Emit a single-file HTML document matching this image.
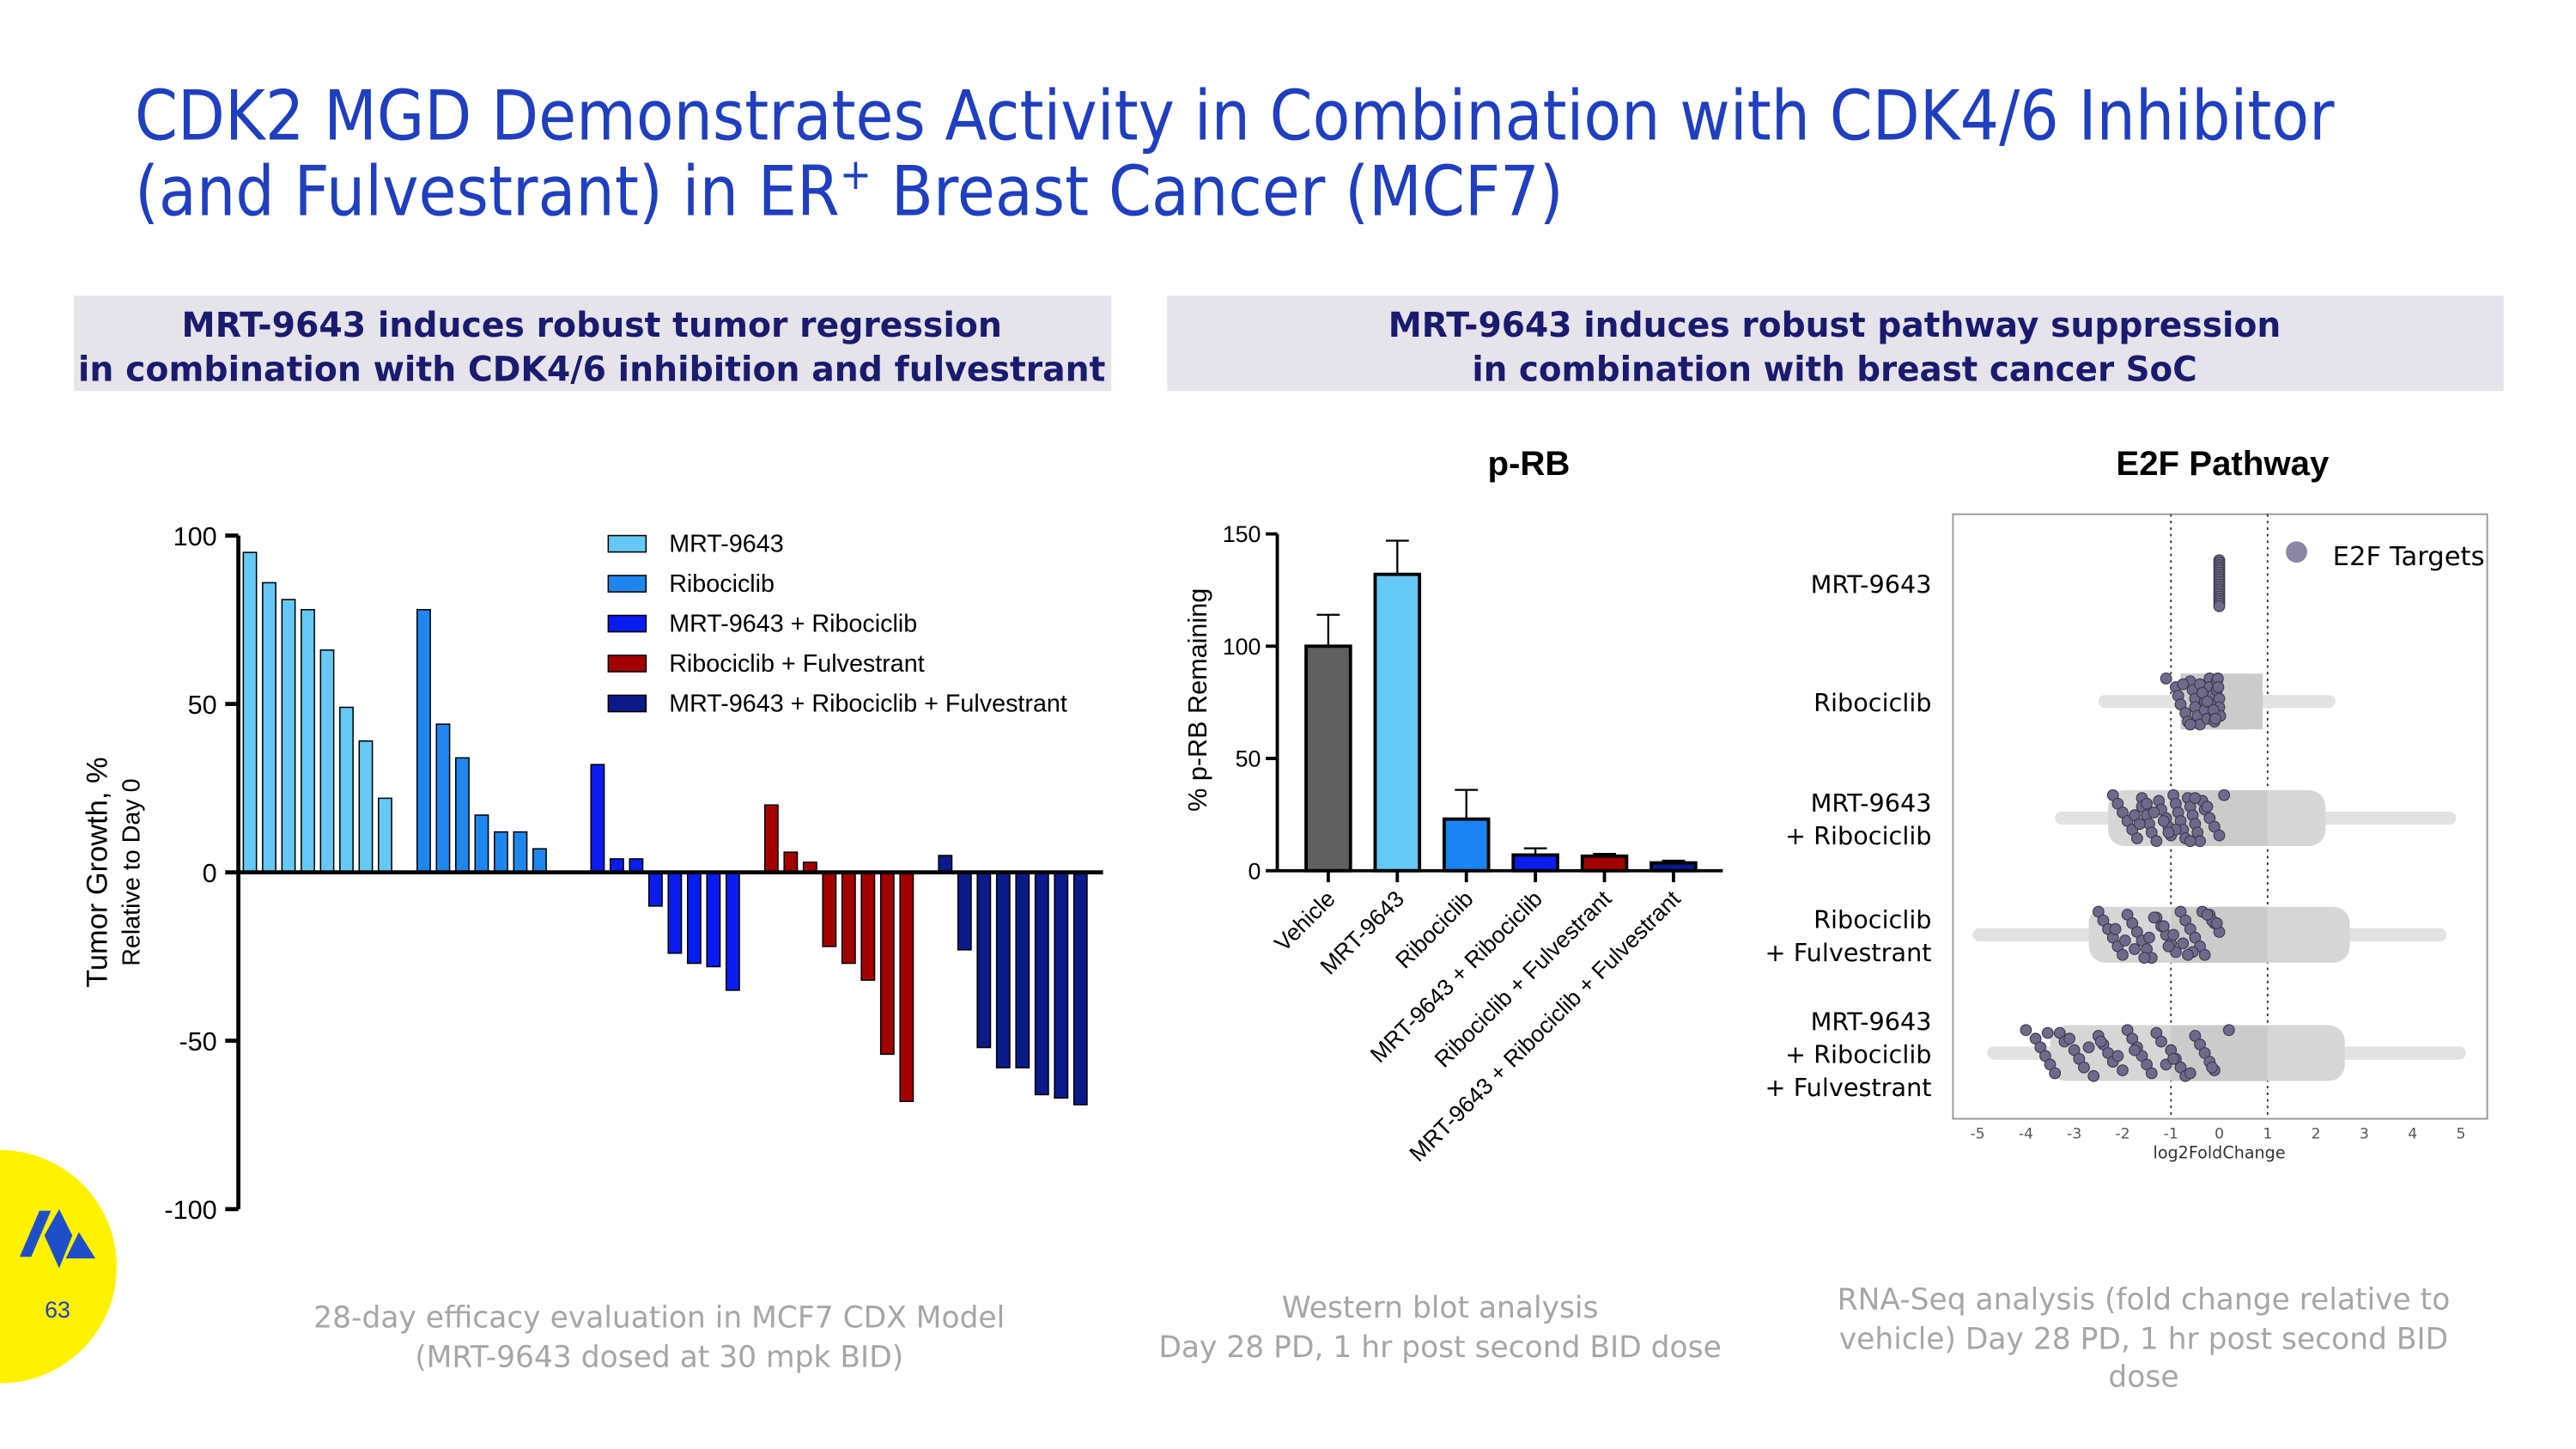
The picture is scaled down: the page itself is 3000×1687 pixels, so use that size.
<!DOCTYPE html>
<html><head><meta charset="utf-8">
<style>
html,body{margin:0;padding:0;background:#fff;}
svg{display:block;}
</style></head>
<body>
<svg id="root" width="3000" height="1687" viewBox="0 0 1567 882" preserveAspectRatio="none" xmlns="http://www.w3.org/2000/svg" font-family="'Liberation Sans', sans-serif">
<rect x="0" y="0" width="1567" height="882" fill="#fff"/>
<!-- Title -->
<text x="82" y="85" font-family="'DejaVu Sans', sans-serif" font-size="42" fill="#1f3fc0" textLength="1338" lengthAdjust="spacingAndGlyphs">CDK2 MGD Demonstrates Activity in Combination with CDK4/6 Inhibitor</text>
<text x="82" y="131" font-family="'DejaVu Sans', sans-serif" font-size="42" fill="#1f3fc0" textLength="869" lengthAdjust="spacingAndGlyphs">(and Fulvestrant) in ER<tspan font-size="26" dy="-16">+</tspan><tspan dy="16"> Breast Cancer (MCF7)</tspan></text>

<!-- Header boxes -->
<rect x="45" y="180" width="631" height="58" fill="#e4e4ea"/>
<text x="360" y="205" text-anchor="middle" font-family="'DejaVu Sans', sans-serif" font-weight="bold" font-size="21" fill="#1a1a6e" textLength="499" lengthAdjust="spacingAndGlyphs">MRT-9643 induces robust tumor regression</text>
<text x="360" y="232" text-anchor="middle" font-family="'DejaVu Sans', sans-serif" font-weight="bold" font-size="21" fill="#1a1a6e" textLength="625" lengthAdjust="spacingAndGlyphs">in combination with CDK4/6 inhibition and fulvestrant</text>
<rect x="710" y="180" width="813" height="58" fill="#e4e4ea"/>
<text x="1116" y="205" text-anchor="middle" font-family="'DejaVu Sans', sans-serif" font-weight="bold" font-size="21" fill="#1a1a6e" textLength="543" lengthAdjust="spacingAndGlyphs">MRT-9643 induces robust pathway suppression</text>
<text x="1116" y="232" text-anchor="middle" font-family="'DejaVu Sans', sans-serif" font-weight="bold" font-size="21" fill="#1a1a6e" textLength="441" lengthAdjust="spacingAndGlyphs">in combination with breast cancer SoC</text>

<g id="waterfall"></g>
<g id="prb"></g>
<g id="e2f"></g>

<!-- Captions -->
<g font-family="'DejaVu Sans', sans-serif" font-size="18" fill="#a6a6a6" text-anchor="middle">
<text x="401" y="808">28-day efficacy evaluation in MCF7 CDX Model</text>
<text x="401" y="832">(MRT-9643 dosed at 30 mpk BID)</text>
<text x="876" y="802">Western blot analysis</text>
<text x="876" y="826">Day 28 PD, 1 hr post second BID dose</text>
<text x="1304" y="797">RNA-Seq analysis (fold change relative to</text>
<text x="1304" y="821">vehicle) Day 28 PD, 1 hr post second BID</text>
<text x="1304" y="844">dose</text>
</g>

<!-- Logo -->
<circle cx="0" cy="771" r="71" fill="#fff200"/>
<g fill="#1f4fc8">
<polygon points="12,765 24,737 31,737 19,765"/>
<polygon points="27,752 36,736 44,752 36,772"/>
<polygon points="40,766 48,750 58,766"/>
</g>
<text x="35" y="802" font-size="14" fill="#1f3fc0" text-anchor="middle">63</text>

<script>
// ===== Waterfall data =====
const wfGroups = ["MRT-9643","Ribociclib","MRT-9643 + Ribociclib","Ribociclib + Fulvestrant","MRT-9643 + Ribociclib + Fulvestrant"];
const wfMRT = [95,86,81,78,66,49,39,22];
const wfRibo = [78,44,34,17,12,12,7];
const wfMRTRibo = [32,4,4,-10,-24,-27,-28,-35];
const wfRiboFulv = [20,6,3,-22,-27,-32,-54,-68];
const wfTriple = [5,-23,-52,-58,-58,-66,-67,-69];
const wfTicks = [100,50,0,-50,-100];
const wfColors = ["#66c8f5","#1f86ee","#0a1cf0","#a30000","#0a1a8a"];

// ===== p-RB data =====
const prbCats = ["Vehicle","MRT-9643","Ribociclib","MRT-9643 + Ribociclib","Ribociclib + Fulvestrant","MRT-9643 + Ribociclib + Fulvestrant"];
const prbVals = [100,132,23,7,6.5,3.5];
const prbErr = [14,15,13,3,1,1];
const prbTicks = [150,100,50,0];
const prbColors = ["#606060","#66c8f5","#1a84f2","#0a1cf0","#a30000","#0a1a8a"];

// ===== E2F data =====
const e2fRows = ["MRT-9643","Ribociclib","MRT-9643\n+ Ribociclib","Ribociclib\n+ Fulvestrant","MRT-9643\n+ Ribociclib\n+ Fulvestrant"];
const e2fCoreMin = [0,-0.8,-2.3,-2.7,-3.5];
const e2fCoreMax = [0,0.9,2.2,2.7,2.6];
const e2fTailMin = [0,-2.4,-3.3,-5.0,-4.7];
const e2fTailMax = [0,2.3,4.8,4.6,5.0];
const e2fTargets0 = [0,0,0,0,0,0,0,0,0,0,0,0,0,0,0,0,0,0,0,0];
const e2fTargets1 = [-1.1,-0.9,-0.85,-0.8,-0.7,-0.65,-0.6,-0.55,-0.5,-0.5,-0.45,-0.4,-0.4,-0.35,-0.3,-0.3,-0.25,-0.2,-0.2,-0.15,-0.15,-0.1,-0.1,-0.05,-0.05,0,0,0.02,-0.6,-0.75,-0.35,-0.25,-0.12,-0.08,-0.03,-0.02];
const e2fTargets2 = [-2.2,-2.1,-2.0,-1.9,-1.8,-1.7,-1.6,-1.6,-1.5,-1.45,-1.4,-1.3,-1.25,-1.2,-1.1,-1.05,-1.0,-0.95,-0.9,-0.85,-0.8,-0.75,-0.7,-0.65,-0.6,-0.55,-0.5,-0.45,-0.4,-0.35,-0.3,-0.2,-0.1,0,0.1,-1.5,-1.35,-1.15,-0.9,-0.7,-0.5,-0.25,-1.75,-1.65,-1.05,-0.6];
const e2fTargets3 = [-2.5,-2.4,-2.3,-2.2,-2.1,-2.0,-1.9,-1.8,-1.7,-1.6,-1.5,-1.4,-1.3,-1.2,-1.1,-1.0,-0.9,-0.8,-0.7,-0.6,-0.5,-0.4,-0.3,-0.2,-0.1,0,-1.95,-1.75,-1.55,-1.35,-1.15,-0.95,-0.75,-0.55,-0.35,-0.15,-2.15,-1.45,-1.05,-0.65,-0.25,-0.05];
const e2fTargets4 = [-4.0,-3.8,-3.7,-3.6,-3.5,-3.4,-3.3,-3.2,-3.0,-2.9,-2.8,-2.6,-2.5,-2.4,-2.3,-2.2,-2.0,-1.9,-1.8,-1.7,-1.6,-1.5,-1.4,-1.3,-1.2,-1.0,-0.9,-0.8,-0.7,-0.5,-0.4,-0.3,-0.2,-0.1,0.2,-3.1,-2.7,-2.1,-1.1,-0.6,-3.55,-2.45,-1.75,-0.95,-0.15];
const e2fTicks = [-5,-4,-3,-2,-1,0,1,2,3,4,5];

const NS = "http://www.w3.org/2000/svg";
function mk(parent, tag, attrs, text){
  const el = document.createElementNS(NS, tag);
  for (const k in attrs) el.setAttribute(k, attrs[k]);
  if (text !== undefined) el.textContent = text;
  parent.appendChild(el);
  return el;
}

// ===== Waterfall chart =====
(function(){
  const g = document.getElementById('waterfall');
  const y = v => 531 - v * 2.05;
  const x0 = 148, pitch = 11.75, bw = 8;
  const series = [wfMRT, wfRibo, wfMRTRibo, wfRiboFulv, wfTriple];
  series.forEach((arr, gi) => {
    arr.forEach((v, i) => {
      const slot = gi * 9 + i;
      const top = Math.min(y(v), y(0)), h = Math.abs(y(v) - y(0));
      const r = mk(g, 'rect', {x: x0 + slot * pitch, y: top, width: bw, height: h, fill: wfColors[gi], stroke: '#000', 'stroke-width': 0.8});
      
      
    });
  });
  const ax = mk(g, 'line', {x1: 145, y1: y(100), x2: 145, y2: y(-100), stroke: '#000', 'stroke-width': 2.5});
  
  
  const xa = mk(g, 'line', {x1: 145, y1: y(0), x2: 671, y2: y(0), stroke: '#000', 'stroke-width': 2.5});
  
  
  wfTicks.forEach(t => {
    mk(g, 'line', {x1: 137, y1: y(t), x2: 145, y2: y(t), stroke: '#000', 'stroke-width': 2.5});
    const tl = mk(g, 'text', {x: 132, y: y(t) + 6, 'text-anchor': 'end', 'font-size': 16, fill: '#000'}, String(t));
    
    
  });
  const t1 = mk(g, 'text', {x: 0, y: 0, transform: 'translate(65,531) rotate(-90)', 'text-anchor': 'middle', 'font-size': 18}, 'Tumor Growth, %');
  
  
  const t2 = mk(g, 'text', {x: 0, y: 0, transform: 'translate(85,531) rotate(-90)', 'text-anchor': 'middle', 'font-size': 15}, 'Relative to Day 0');
  
  
  wfGroups.forEach((name, i) => {
    const yy = 331 + i * 24.3;
    const lb = mk(g, 'rect', {x: 370, y: yy - 5, width: 23, height: 10, fill: wfColors[i], stroke: '#000', 'stroke-width': 0.8});
    
    
    const lt = mk(g, 'text', {x: 407, y: yy + 5, 'font-size': 15}, name);
    
    
  });
})();

// ===== p-RB chart =====
(function(){
  const g = document.getElementById('prb');
  const y = v => 530 - v * (205 / 150);
  const cx = i => 808 + i * 42;
  const bw = 27;
  const title = mk(g, 'text', {x: 930, y: 289, 'text-anchor': 'middle', 'font-size': 21, 'font-weight': 'bold'}, 'p-RB');
  
  
  prbVals.forEach((v, i) => {
    const e = mk(g, 'line', {x1: cx(i), y1: y(v), x2: cx(i), y2: y(v + prbErr[i]), stroke: '#000', 'stroke-width': 1.2});
    
    
    mk(g, 'line', {x1: cx(i) - 7, y1: y(v + prbErr[i]), x2: cx(i) + 7, y2: y(v + prbErr[i]), stroke: '#000', 'stroke-width': 1.2});
    const r = mk(g, 'rect', {x: cx(i) - bw / 2, y: y(v), width: bw, height: y(0) - y(v), fill: prbColors[i], stroke: '#000', 'stroke-width': 2});
    
    
    mk(g, 'line', {x1: cx(i), y1: y(0), x2: cx(i), y2: y(0) + 7, stroke: '#000', 'stroke-width': 2});
    const lx = cx(i) + 5, ly = 548;
    const lt = mk(g, 'text', {x: 0, y: 0, transform: 'translate(' + lx + ',' + ly + ') rotate(-45)', 'text-anchor': 'end', 'font-size': 14}, prbCats[i]);
    
    
  });
  const ya = mk(g, 'line', {x1: 777, y1: y(150), x2: 777, y2: y(0), stroke: '#000', 'stroke-width': 2});
  
  
  const xa = mk(g, 'line', {x1: 777, y1: y(0), x2: 1048, y2: y(0), stroke: '#000', 'stroke-width': 2});
  
  
  prbTicks.forEach(t => {
    mk(g, 'line', {x1: 770, y1: y(t), x2: 777, y2: y(t), stroke: '#000', 'stroke-width': 2});
    const tl = mk(g, 'text', {x: 767, y: y(t) + 5, 'text-anchor': 'end', 'font-size': 14}, String(t));
    
    
  });
  const yt = mk(g, 'text', {x: 0, y: 0, transform: 'translate(734,426) rotate(-90)', 'text-anchor': 'middle', 'font-size': 16}, '% p-RB Remaining');
  
  
})();

// ===== E2F chart =====
(function(){
  const g = document.getElementById('e2f');
  const x = v => 1350 + v * 29.4;
  const rowY = [355, 427, 498, 569, 641];
  const half = 17;
  const title = mk(g, 'text', {x: 1352, y: 289, 'text-anchor': 'middle', 'font-size': 21, 'font-weight': 'bold'}, 'E2F Pathway');
  
  
  const box = mk(g, 'rect', {x: 1188, y: 313, width: 325, height: 368, fill: 'none', stroke: '#999', 'stroke-width': 1});
  
  
  [-1, 1].forEach(v => {
    const l = mk(g, 'line', {x1: x(v), y1: 313, x2: x(v), y2: 681, stroke: '#333', 'stroke-width': 1, 'stroke-dasharray': '1.5,2.5'});
    
    
  });
  const targets = [e2fTargets0, e2fTargets1, e2fTargets2, e2fTargets3, e2fTargets4];
  e2fRows.forEach((name, r) => {
    const cy = rowY[r];
    if (e2fTailMax[r] > e2fTailMin[r]) {
      const tail = mk(g, 'rect', {x: x(e2fTailMin[r]) - 3, y: cy - 4, width: x(e2fTailMax[r]) - x(e2fTailMin[r]) + 6, height: 8, rx: 4, fill: '#e2e2e2'});
      
      
      const core = mk(g, 'rect', {x: x(e2fCoreMin[r]), y: cy - half, width: x(e2fCoreMax[r]) - x(e2fCoreMin[r]), height: half * 2, rx: 10, fill: '#d6d6d6'});
      
      
      const dense = mk(g, 'rect', {x: x(Math.max(e2fCoreMin[r], -1)), y: cy - half, width: x(Math.min(e2fCoreMax[r], 1)) - x(Math.max(e2fCoreMin[r], -1)), height: half * 2, fill: '#cbcbcb'});
      
      
    }
    targets[r].forEach((v, i) => {
      const n = targets[r].length;
      const jit = r === 0 ? (i / (n - 1) - 0.5) * 2 * 14 : (((i * 37) % 17) / 16 - 0.5) * 2 * (half - 3);
      const c = mk(g, 'circle', {cx: x(v), cy: cy + jit, r: 3.3, fill: '#6f6a8c', stroke: '#3a3a4a', 'stroke-width': 0.6});
      
      
    });
    const lines = name.split('\n');
    const start = cy - (lines.length - 1) * 10 + 6;
    lines.forEach((ln, k) => {
      const t = mk(g, 'text', {x: 1175, y: start + k * 20, 'text-anchor': 'end', 'font-family': "'DejaVu Sans', sans-serif", 'font-size': 15}, ln);
      
      
    });
  });
  e2fTicks.forEach(t => {
    const tl = mk(g, 'text', {x: x(t), y: 693, 'text-anchor': 'middle', 'font-family': "'DejaVu Sans', sans-serif", 'font-size': 9, fill: '#555'}, String(t));
    
    
  });
  const xt = mk(g, 'text', {x: 1350, y: 705, 'text-anchor': 'middle', 'font-family': "'DejaVu Sans', sans-serif", 'font-size': 10, fill: '#333'}, 'log2FoldChange');
  
  
  const ld = mk(g, 'circle', {cx: 1397, cy: 336, r: 6.5, fill: '#8a86a6'});
  
  
  const lt = mk(g, 'text', {x: 1419, y: 344, 'font-family': "'DejaVu Sans', sans-serif", 'font-size': 16}, 'E2F Targets');
  
  
})();
</script>
</svg>
</body></html>
